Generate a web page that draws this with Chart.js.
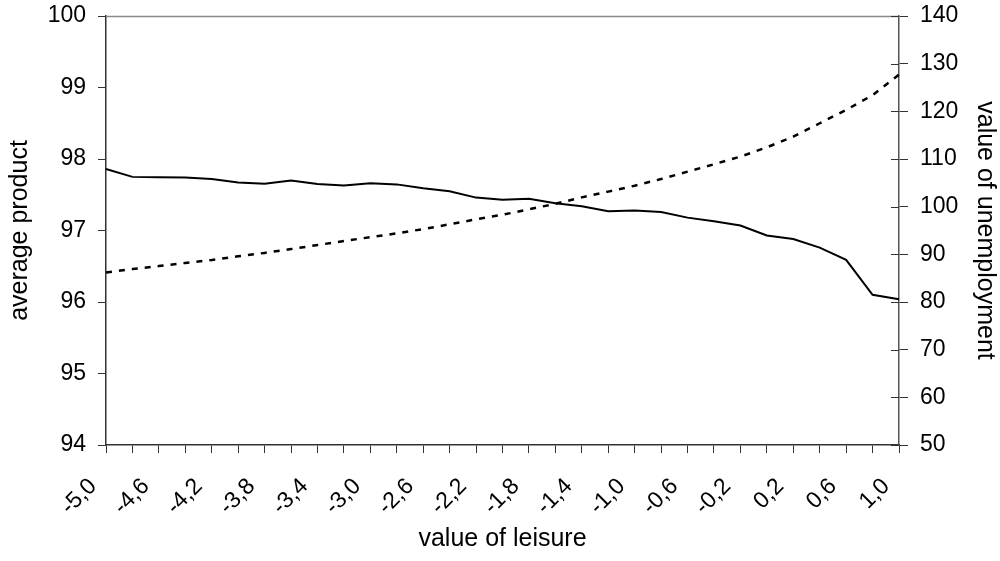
<!DOCTYPE html>
<html>
<head>
<meta charset="utf-8">
<script src="https://cdn.jsdelivr.net/npm/chart.js@4/dist/chart.umd.min.js"></script>
<style>
  html, body { margin: 0; padding: 0; background: #fff; }
  #wrap { width: 1000px; height: 561px; position: relative; }
</style>
</head>
<body>
<div id="wrap"><canvas id="c"></canvas></div>
<script>
// Value of leisure (category axis), step 0.2
const leisureLabels = ['-5,0','-4,8','-4,6','-4,4','-4,2','-4,0','-3,8','-3,6','-3,4','-3,2','-3,0',
  '-2,8','-2,6','-2,4','-2,2','-2,0','-1,8','-1,6','-1,4','-1,2','-1,0',
  '-0,8','-0,6','-0,4','-0,2','0,0','0,2','0,4','0,6','0,8','1,0'];

// Average product (left axis)
const averageProduct = [97.86, 97.75, 97.745, 97.74, 97.72, 97.67, 97.655, 97.70, 97.65, 97.63, 97.66,
  97.645, 97.59, 97.55, 97.46, 97.43, 97.445, 97.38, 97.34, 97.27, 97.28,
  97.26, 97.18, 97.13, 97.07, 96.93, 96.88, 96.76, 96.59, 96.10, 96.04];

// Value of unemployment (right axis)
const valueOfUnemployment = [86.2, 86.9, 87.55, 88.2, 88.8, 89.6, 90.3, 91.1, 91.95, 92.8, 93.6,
  94.4, 95.3, 96.3, 97.35, 98.3, 99.45, 100.6, 101.95, 103.15, 104.4,
  105.8, 107.35, 108.9, 110.5, 112.45, 114.7, 117.5, 120.3, 123.4, 127.7];

const FONT = 'Liberation Sans, Arial, sans-serif';
const AXIS = '#333333';
const TICK_SIZE = 23;
const TITLE_SIZE = 25;

// fixed axis box sizes so the plot area sits at a known place
function fixBox(size, horizontal) {
  return function (s) {
    if (horizontal) s.height = size; else s.width = size;
    s.paddingTop = 0; s.paddingBottom = 0; s.paddingLeft = 0; s.paddingRight = 0;
  };
}

// top frame line and crossing ticks on the right axis
const framePlugin = {
  id: 'frame',
  afterDraw(chart) {
    const { ctx, chartArea } = chart;
    ctx.save();
    ctx.strokeStyle = '#8a8a8a';
    ctx.lineWidth = 1.5;
    ctx.beginPath();
    ctx.moveTo(chartArea.left, chartArea.top + 0.5);
    ctx.lineTo(chartArea.right, chartArea.top + 0.5);
    ctx.stroke();
    const r = chart.scales.y2;
    ctx.strokeStyle = AXIS;
    ctx.lineWidth = 1;
    r.ticks.forEach((t) => {
      const y = Math.round(r.getPixelForValue(t.value)) + 0.5;
      ctx.beginPath();
      ctx.moveTo(chartArea.right - 8, y);
      ctx.lineTo(chartArea.right, y);
      ctx.stroke();
    });
    ctx.restore();
  }
};

new Chart(document.getElementById('c'), {
  type: 'line',
  data: {
    labels: leisureLabels,
    datasets: [
      {
        label: 'average product',
        data: averageProduct,
        yAxisID: 'y',
        borderColor: '#000',
        borderWidth: 2,
        pointRadius: 0,
        tension: 0,
        fill: false
      },
      {
        label: 'value of unemployment',
        data: valueOfUnemployment,
        yAxisID: 'y2',
        borderColor: '#000',
        borderWidth: 2.5,
        borderDash: [6, 7],
        pointRadius: 0,
        tension: 0,
        fill: false
      }
    ]
  },
  plugins: [framePlugin],
  options: {
    responsive: true,
    maintainAspectRatio: false,
    animation: false,
    layout: { padding: { top: 16, left: 0, right: 0, bottom: 0 } },
    plugins: {
      legend: { display: false },
      tooltip: { enabled: false }
    },
    scales: {
      x: {
        type: 'category',
        offset: false,
        afterFit: fixBox(116, true),
        grid: { drawOnChartArea: false, drawTicks: true, tickLength: 8, color: AXIS },
        border: { display: true, color: AXIS, width: 1.5 },
        ticks: {
          autoSkip: false,
          maxRotation: 45,
          minRotation: 45,
          padding: 20,
          labelOffset: -13,
          color: '#000',
          font: { family: FONT, size: TICK_SIZE },
          callback(value, index) { return index % 2 === 0 ? leisureLabels[index] : ''; }
        },
        title: {
          display: true,
          text: 'value of leisure',
          color: '#000',
          font: { family: FONT, size: TITLE_SIZE },
          padding: { top: 0, bottom: 7 }
        }
      },
      y: {
        position: 'left',
        min: 94,
        max: 100,
        afterFit: fixBox(106, false),
        grid: { drawOnChartArea: false, drawTicks: true, tickLength: 8, color: AXIS },
        border: { display: true, color: AXIS, width: 1.5 },
        ticks: {
          stepSize: 1,
          padding: 12,
          color: '#000',
          font: { family: FONT, size: TICK_SIZE }
        },
        title: {
          display: true,
          text: 'average product',
          color: '#000',
          font: { family: FONT, size: TITLE_SIZE },
          padding: { top: 5, bottom: 0 }
        }
      },
      y2: {
        position: 'right',
        min: 50,
        max: 140,
        afterFit: fixBox(101, false),
        grid: { drawOnChartArea: false, drawTicks: true, tickLength: 9, color: AXIS },
        border: { display: true, color: '#555555', width: 1.5 },
        ticks: {
          stepSize: 10,
          padding: 12,
          color: '#000',
          font: { family: FONT, size: TICK_SIZE }
        },
        title: {
          display: true,
          text: 'value of unemployment',
          color: '#000',
          font: { family: FONT, size: TITLE_SIZE },
          padding: { top: 0, bottom: 0 }
        }
      }
    }
  }
});
</script>
</body>
</html>
